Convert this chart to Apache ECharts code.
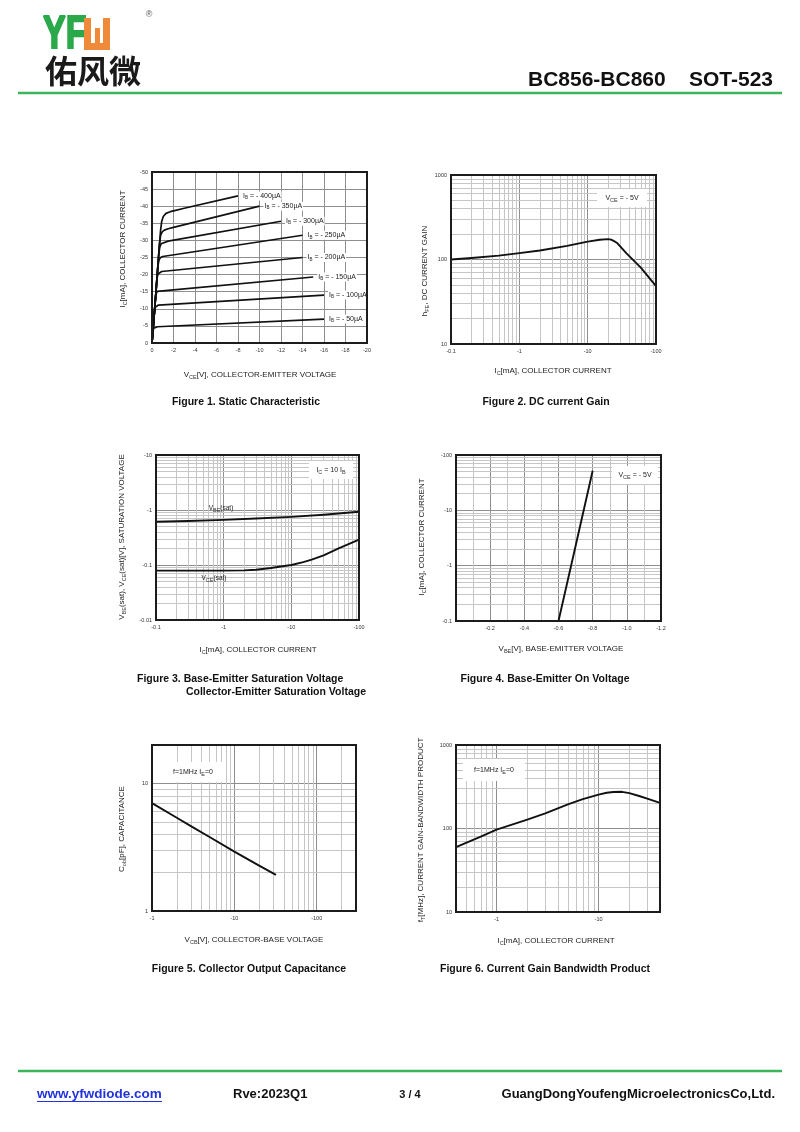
<!DOCTYPE html>
<html><head><meta charset="utf-8">
<script src="https://cdn.jsdelivr.net/npm/echarts@6/dist/echarts.min.js"></script>
<style>html,body{margin:0;padding:0;background:#fff}#c{width:800px;height:1132px}</style>
</head><body><div id="c"></div>
<script>
// ---------- Figure 1: Static characteristic, [VCE (V), IC (mA)] ----------
const ib400=[[0,0],[-0.3,-12],[-0.5,-20.5],[-0.7,-29],[-0.8,-33],[-0.9,-35.5],[-1.05,-37],[-1.3,-37.9],[-1.7,-38.4],[-2.2,-38.8],[-3,-39.4],[-8,-43]];
const ib350=[[0,0],[-0.3,-12],[-0.5,-20.5],[-0.68,-28.5],[-0.8,-31.5],[-0.95,-32.5],[-1.15,-33],[-1.5,-33.4],[-2,-33.8],[-10,-40]];
const ib300=[[0,0],[-0.3,-12],[-0.5,-20.5],[-0.62,-25.5],[-0.72,-28],[-0.85,-29],[-1,-29.4],[-1.5,-29.8],[-12,-35.6]];
const ib250=[[0,0],[-0.3,-12],[-0.45,-18.5],[-0.55,-22.5],[-0.65,-24.3],[-0.8,-25],[-1,-25.3],[-14,-31.5]];
const ib200=[[0,0],[-0.25,-10],[-0.38,-15.5],[-0.46,-18.8],[-0.56,-20.2],[-0.7,-20.7],[-0.9,-20.9],[-14,-25]];
const ib150=[[0,0],[-0.2,-8],[-0.3,-12.2],[-0.38,-14.3],[-0.48,-15.1],[-0.65,-15.4],[-15,-19.3]];
const ib100=[[0,0],[-0.15,-6],[-0.23,-9.2],[-0.3,-10.4],[-0.4,-10.9],[-0.6,-11.1],[-16,-14]];
const ib50=[[0,0],[-0.06,-2.4],[-0.1,-3.6],[-0.16,-4.3],[-0.26,-4.6],[-0.5,-4.75],[-16,-7]];
const ibLabels=['- 400µA','- 350µA','- 300µA','- 250µA','- 200µA','- 150µA','- 100µA','- 50µA'];

// ---------- Figure 2: DC current gain ----------
const hfeIc=[0.1,0.2,0.5,1,2,5,10,15,20,22,24,26.7,37,60,100];
const hfeVal=[100,104,111,119,128,145,163,171,174,172,166,158,118,80,48.5];

// ---------- Figure 3: saturation voltages ----------
const vbeSatIc=[0.1,0.3,1,3,10,30,100];
const vbeSatVal=[0.61,0.63,0.66,0.70,0.75,0.82,0.93];
const vceSatIc=[0.1,1,2,3,5,7,10,15,20,30,50,70,100];
const vceSatVal=[0.079,0.079,0.08,0.082,0.088,0.094,0.10,0.113,0.125,0.15,0.20,0.24,0.29];

// ---------- Figure 4: base-emitter on voltage ----------
const onVbe=[0.6,0.7,0.8];
const onIc=[0.1,2.26,52];

// ---------- Figure 5: collector output capacitance ----------
const cobVcb=[1,2,3,5,10,20,32];
const cobVal=[7.0,5.38,4.61,3.80,2.92,2.27,1.92];

// ---------- Figure 6: gain bandwidth product ----------
const ftIc=[0.4,0.7,1,2,3,5,7,10,12,14,17,20,25,30,40];
const ftVal=[60,80,97,128,152,195,225,255,268,274,275,265,245,228,203];

const zip=(a,b)=>a.map((v,i)=>[v,b[i]]);
const FONT='"Liberation Sans", Arial, sans-serif';
const grids=[
  {left:152,top:172,width:215,height:171},
  {left:451,top:175,width:205,height:169},
  {left:156,top:455,width:203,height:165},
  {left:456,top:455,width:205,height:166},
  {left:152,top:745,width:204,height:166},
  {left:456,top:745,width:204,height:167}
];
const MAJ='#8e8e8e', MIN='#c6c6c6';
function logFmt(prefix){return v=>{const l=Math.log10(v);if(Math.abs(l-Math.round(l))>1e-6)return '';return prefix+(+v.toPrecision(6));};}
function minors(min,max){const out=[];for(let d=Math.floor(Math.log10(min))-1;d<=Math.ceil(Math.log10(max));d++){for(let k=2;k<=9;k++){const v=+(k*Math.pow(10,d)).toPrecision(6);if(v>min*1.001&&v<max*0.999)out.push(v);}}return out;}
const lbl={fontSize:5.5,color:'#333',fontFamily:FONT,margin:4};
function ax(gi,extra){return Object.assign({gridIndex:gi,axisLine:{show:false},axisTick:{show:false},axisLabel:Object.assign({},lbl),splitLine:{show:true,lineStyle:{color:MAJ,width:1}}},extra);}
function gridLines(i,xs,ys){return {type:'line',xAxisIndex:i,yAxisIndex:i,data:[],silent:true,
  markLine:{silent:true,z:1,symbol:['none','none'],animation:false,label:{show:false},emphasis:{disabled:true},
    lineStyle:{color:MIN,width:1,type:'solid'},data:[...xs.map(v=>({xAxis:v})),...ys.map(v=>({yAxis:v}))]}};}
const curve=(i,data)=>({type:'line',xAxisIndex:i,yAxisIndex:i,data:data,showSymbol:false,symbol:'none',smooth:false,z:10,silent:true,lineStyle:{color:'#111',width:1.9,join:'round'}});

const xAxes=[
  ax(0,{type:'value',min:-20,max:0,interval:2,inverse:true}),
  ax(1,{type:'log',logBase:10,min:0.1,max:100,axisLabel:Object.assign({},lbl,{formatter:logFmt('-')})}),
  ax(2,{type:'log',logBase:10,min:0.1,max:100,axisLabel:Object.assign({},lbl,{formatter:logFmt('-')})}),
  ax(3,{type:'value',min:0,max:1.2,interval:0.1,axisLabel:Object.assign({},lbl,{formatter:v=>{const t=Math.round(v*10);return (t>0&&t%2===0)?'-'+(t/10).toFixed(1):'';}}),splitLine:{show:true,lineStyle:{color:[MAJ,MIN],width:1}}}),
  ax(4,{type:'log',logBase:10,min:1,max:300,axisLabel:Object.assign({},lbl,{formatter:logFmt('-')})}),
  ax(5,{type:'log',logBase:10,min:0.4,max:40,axisLabel:Object.assign({},lbl,{formatter:logFmt('-')})})
];
const yAxes=[
  ax(0,{type:'value',min:-50,max:0,interval:5,inverse:true}),
  ax(1,{type:'log',logBase:10,min:10,max:1000,axisLabel:Object.assign({},lbl,{formatter:logFmt('')})}),
  ax(2,{type:'log',logBase:10,min:0.01,max:10,axisLabel:Object.assign({},lbl,{formatter:logFmt('-')})}),
  ax(3,{type:'log',logBase:10,min:0.1,max:100,axisLabel:Object.assign({},lbl,{formatter:logFmt('-')})}),
  ax(4,{type:'log',logBase:10,min:1,max:20,axisLabel:Object.assign({},lbl,{formatter:logFmt('')})}),
  ax(5,{type:'log',logBase:10,min:10,max:1000,axisLabel:Object.assign({},lbl,{formatter:logFmt('')})})
];

const series=[];
// Figure 1 curves with labels at their ends
[ib400,ib350,ib300,ib250,ib200,ib150,ib100,ib50].forEach((c,i)=>{
  series.push({type:'line',xAxisIndex:0,yAxisIndex:0,silent:true,z:10,smooth:false,
    symbol:'circle',symbolSize:0,showSymbol:true,showAllSymbol:true,
    lineStyle:{color:'#111',width:1.7,join:'round'},
    data:c.map((p,j)=>j===c.length-1?{value:p,label:{show:true,position:'right',distance:4,
      formatter:'I{s|B} = '+ibLabels[i],fontSize:7,color:'#222',fontFamily:FONT,backgroundColor:'#fff',padding:[0,1,0,1],
      rich:{s:{fontSize:4.5,padding:[4,0,0,0],fontFamily:FONT,color:'#222'}}}}:p)});
});
series.push(gridLines(1,minors(0.1,100),minors(10,1000)));
series.push(curve(1,zip(hfeIc,hfeVal)));
series.push(gridLines(2,minors(0.1,100),minors(0.01,10)));
series.push(curve(2,zip(vbeSatIc,vbeSatVal)));
series.push(curve(2,zip(vceSatIc,vceSatVal)));
series.push(gridLines(3,[],minors(0.1,100)));
series.push(curve(3,zip(onVbe,onIc)));
series.push(gridLines(4,minors(1,300),minors(1,20)));
series.push(curve(4,zip(cobVcb,cobVal)));
series.push(gridLines(5,minors(0.4,40),minors(10,1000)));
series.push(curve(5,zip(ftIc,ftVal)));

const subRich={s:{fontSize:5.5,padding:[4,0,0,0],fontFamily:FONT,fill:'#333'}};
function txt(x,y,text,size,opt){opt=opt||{};return {type:'text',x:x,y:y,rotation:opt.rot||0,z:opt.z||60,silent:true,
  style:{text:text,font:(opt.bold?'bold ':'')+size+'px '+(opt.family||FONT),fill:opt.color||'#222',
    align:opt.align||'center',textAlign:opt.align||'center',verticalAlign:'middle',textVerticalAlign:'middle',
    rich:opt.rich||subRich}};}
const graphic=[];
// plot frames
grids.forEach(g=>graphic.push({type:'rect',z:80,silent:true,shape:{x:g.left,y:g.top,width:g.width,height:g.height},style:{fill:'none',stroke:'#1c1c1c',lineWidth:2}}));
// axis titles
const T=8, R=Math.PI/2;
graphic.push(txt(260,375,'V{s|CE}[V], COLLECTOR-EMITTER VOLTAGE',T));
graphic.push(txt(123,249,'I{s|C}[mA], COLLECTOR CURRENT',T,{rot:R}));
graphic.push(txt(553,371,'I{s|C}[mA], COLLECTOR CURRENT',T));
graphic.push(txt(425,271,'h{s|FE}, DC CURRENT GAIN',T,{rot:R}));
graphic.push(txt(258,650,'I{s|C}[mA], COLLECTOR CURRENT',T));
graphic.push(txt(122,537,'V{s|BE}(sat), V{s|CE}(sat)[V], SATURATION VOLTAGE',T,{rot:R}));
graphic.push(txt(561,649,'V{s|BE}[V], BASE-EMITTER VOLTAGE',T));
graphic.push(txt(422,537,'I{s|C}[mA], COLLECTOR CURRENT',T,{rot:R}));
graphic.push(txt(254,940,'V{s|CB}[V], COLLECTOR-BASE VOLTAGE',T));
graphic.push(txt(122,829,'C{s|ob}[pF], CAPACITANCE',T,{rot:R}));
graphic.push(txt(556,941,'I{s|C}[mA], COLLECTOR CURRENT',T));
graphic.push(txt(421,830,'f{s|T}[MHz], CURRENT GAIN-BANDWIDTH PRODUCT',T,{rot:R}));
// annotation boxes
function box(x,y,w,h,text){graphic.push({type:'rect',z:50,silent:true,shape:{x:x,y:y,width:w,height:h},style:{fill:'#fff',stroke:null}});graphic.push(txt(x+w/2,y+h/2,text,7,{z:55}));}
box(597,189,50,18,'V{s|CE} = - 5V');
box(309,461,44,18,'I{s|C} = 10 I{s|B}');
box(612,466,46,18,'V{s|CE} = - 5V');
box(160,762,66,20,'f=1MHz I{s|E}=0');
box(463,759,62,22,'f=1MHz I{s|E}=0');
graphic.push(txt(221,508,'V{s|BE}(sat)',6.5,{z:55}));
graphic.push(txt(214,578,'V{s|CE}(sat)',6.5,{z:55}));
// captions
const C=10.5;
graphic.push(txt(246,402,'Figure 1. Static Characteristic',C,{bold:true,color:'#111'}));
graphic.push(txt(546,402,'Figure 2. DC current Gain',C,{bold:true,color:'#111'}));
graphic.push(txt(137,679,'Figure 3. Base-Emitter Saturation Voltage',C,{bold:true,color:'#111',align:'left'}));
graphic.push(txt(366,692,'Collector-Emitter Saturation Voltage',C,{bold:true,color:'#111',align:'right'}));
graphic.push(txt(545,679,'Figure 4. Base-Emitter On Voltage',C,{bold:true,color:'#111'}));
graphic.push(txt(249,969,'Figure 5. Collector Output Capacitance',C,{bold:true,color:'#111'}));
graphic.push(txt(545,969,'Figure 6. Current Gain Bandwidth Product',C,{bold:true,color:'#111'}));
// header
graphic.push({type:'text',x:43,y:35,scaleX:0.74,silent:true,style:{text:'YF',font:'bold 46px '+FONT,fill:'#2aa84a',stroke:'#2aa84a',lineWidth:2,align:'left',textAlign:'left',verticalAlign:'middle',textVerticalAlign:'middle'}});
const OR='#ef8a3a';
[[84,18,7,32],[103,18,7,32],[84,43,26,7],[95,28,5,22]].forEach(r=>graphic.push({type:'rect',silent:true,shape:{x:r[0],y:r[1],width:r[2],height:r[3]},style:{fill:OR}}));
graphic.push(txt(149,15,'®',9,{color:'#555'}));
graphic.push(txt(45,71,'佑风微',32,{bold:true,color:'#1a1a1a',align:'left',family:'"Noto Sans CJK SC", sans-serif'}));
graphic.push(txt(528,80,'BC856-BC860',21,{bold:true,color:'#111',align:'left'}));
graphic.push(txt(773,80,'SOT-523',21,{bold:true,color:'#111',align:'right'}));
graphic.push({type:'line',silent:true,shape:{x1:18,y1:93,x2:782,y2:93},style:{stroke:'#3cb55a',lineWidth:2.5}});
// footer
graphic.push({type:'line',silent:true,shape:{x1:18,y1:1071,x2:782,y2:1071},style:{stroke:'#3cb55a',lineWidth:2.5}});
graphic.push(txt(37,1094,'www.yfwdiode.com',13.5,{bold:true,color:'#2233dd',align:'left'}));
graphic.push({type:'line',silent:true,shape:{x1:37,y1:1101.5,x2:162,y2:1101.5},style:{stroke:'#2233dd',lineWidth:1}});
graphic.push(txt(233,1094,'Rve:2023Q1',13,{bold:true,color:'#111',align:'left'}));
graphic.push(txt(410,1095,'3 / 4',11,{bold:true,color:'#111'}));
graphic.push(txt(775,1094,'GuangDongYoufengMicroelectronicsCo,Ltd.',13,{bold:true,color:'#111',align:'right'}));

const chart=echarts.init(document.getElementById('c'),null,{renderer:'canvas'});
chart.setOption({
  animation:false,backgroundColor:'#fff',
  grid:grids.map(g=>Object.assign({show:false,containLabel:false},g)),
  xAxis:xAxes,yAxis:yAxes,series:series,graphic:graphic
});
</script></body></html>
